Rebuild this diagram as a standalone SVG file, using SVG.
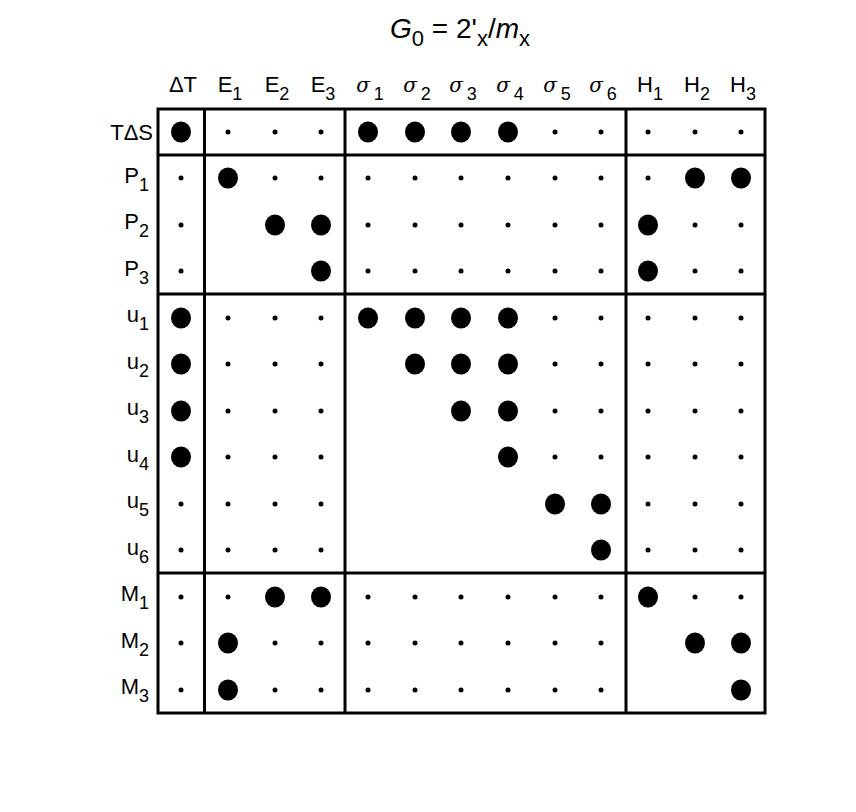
<svg xmlns="http://www.w3.org/2000/svg" width="856" height="812" viewBox="0 0 856 812">
<style>
text{font-family:"Liberation Sans",Arial,sans-serif;font-size:22px;fill:#000}
.sub{font-size:18px}
.g{font-family:"DejaVu Serif","Liberation Serif",serif;font-style:italic;font-size:20px}
.ln{stroke:#000;stroke-width:3;fill:none}
</style>
<defs>
<ellipse id="B" rx="10" ry="10.5"/>
<circle id="s" r="2.5"/>
</defs>
<rect width="856" height="812" fill="#fff"/>
<text x="460" y="38" text-anchor="middle" style="font-size:28px"><tspan font-style="italic">G</tspan><tspan dy="8" style="font-size:22px">0</tspan><tspan dy="-8"> = 2'</tspan><tspan dy="8" style="font-size:22px">x</tspan><tspan dy="-8">/</tspan><tspan font-style="italic">m</tspan><tspan dy="8" style="font-size:22px">x</tspan></text>
<g id="headers" text-anchor="middle">
<text x="183" y="92">ΔT</text>
<text x="230" y="92">E<tspan class="sub" dy="8">1</tspan></text>
<text x="277" y="92">E<tspan class="sub" dy="8">2</tspan></text>
<text x="323" y="92">E<tspan class="sub" dy="8">3</tspan></text>
<text x="370" y="92"><tspan class="g">σ</tspan><tspan class="sub" dx="4" dy="8">1</tspan></text>
<text x="417" y="92"><tspan class="g">σ</tspan><tspan class="sub" dx="4" dy="8">2</tspan></text>
<text x="463" y="92"><tspan class="g">σ</tspan><tspan class="sub" dx="4" dy="8">3</tspan></text>
<text x="510" y="92"><tspan class="g">σ</tspan><tspan class="sub" dx="4" dy="8">4</tspan></text>
<text x="557" y="92"><tspan class="g">σ</tspan><tspan class="sub" dx="4" dy="8">5</tspan></text>
<text x="603" y="92"><tspan class="g">σ</tspan><tspan class="sub" dx="4" dy="8">6</tspan></text>
<text x="650" y="92">H<tspan class="sub" dy="8">1</tspan></text>
<text x="697" y="92">H<tspan class="sub" dy="8">2</tspan></text>
<text x="743" y="92">H<tspan class="sub" dy="8">3</tspan></text>
</g>
<g id="rowlabels" text-anchor="end">
<text x="153" y="140">TΔS</text>
<text x="149" y="183">P<tspan class="sub" dy="8">1</tspan></text>
<text x="149" y="229">P<tspan class="sub" dy="8">2</tspan></text>
<text x="149" y="276">P<tspan class="sub" dy="8">3</tspan></text>
<text x="149" y="322">u<tspan class="sub" dy="8">1</tspan></text>
<text x="149" y="369">u<tspan class="sub" dy="8">2</tspan></text>
<text x="149" y="415">u<tspan class="sub" dy="8">3</tspan></text>
<text x="149" y="462">u<tspan class="sub" dy="8">4</tspan></text>
<text x="149" y="508">u<tspan class="sub" dy="8">5</tspan></text>
<text x="149" y="555">u<tspan class="sub" dy="8">6</tspan></text>
<text x="149" y="601">M<tspan class="sub" dy="8">1</tspan></text>
<text x="149" y="648">M<tspan class="sub" dy="8">2</tspan></text>
<text x="149" y="694">M<tspan class="sub" dy="8">3</tspan></text>
</g>
<g id="frame" class="ln">
<rect x="158" y="109" width="607" height="604"/>
<line x1="204.5" y1="109" x2="204.5" y2="713"/>
<line x1="345" y1="109" x2="345" y2="713"/>
<line x1="626" y1="109" x2="626" y2="713"/>
<line x1="158" y1="155" x2="765" y2="155"/>
<line x1="158" y1="294" x2="765" y2="294"/>
<line x1="158" y1="573" x2="765" y2="573"/>
</g>
<g id="dots">
<use href="#B" x="181" y="132"/><use href="#s" x="228" y="132"/><use href="#s" x="275" y="132"/><use href="#s" x="321" y="132"/><use href="#B" x="368" y="132"/><use href="#B" x="415" y="132"/><use href="#B" x="461" y="132"/><use href="#B" x="508" y="132"/><use href="#s" x="555" y="132"/><use href="#s" x="601" y="132"/><use href="#s" x="648" y="132"/><use href="#s" x="695" y="132"/><use href="#s" x="741" y="132"/>
<use href="#s" x="181" y="178"/><use href="#B" x="228" y="178"/><use href="#s" x="275" y="178"/><use href="#s" x="321" y="178"/><use href="#s" x="368" y="178"/><use href="#s" x="415" y="178"/><use href="#s" x="461" y="178"/><use href="#s" x="508" y="178"/><use href="#s" x="555" y="178"/><use href="#s" x="601" y="178"/><use href="#s" x="648" y="178"/><use href="#B" x="695" y="178"/><use href="#B" x="741" y="178"/>
<use href="#s" x="181" y="225"/><use href="#B" x="275" y="225"/><use href="#B" x="321" y="225"/><use href="#s" x="368" y="225"/><use href="#s" x="415" y="225"/><use href="#s" x="461" y="225"/><use href="#s" x="508" y="225"/><use href="#s" x="555" y="225"/><use href="#s" x="601" y="225"/><use href="#B" x="648" y="225"/><use href="#s" x="695" y="225"/><use href="#s" x="741" y="225"/>
<use href="#s" x="181" y="271"/><use href="#B" x="321" y="271"/><use href="#s" x="368" y="271"/><use href="#s" x="415" y="271"/><use href="#s" x="461" y="271"/><use href="#s" x="508" y="271"/><use href="#s" x="555" y="271"/><use href="#s" x="601" y="271"/><use href="#B" x="648" y="271"/><use href="#s" x="695" y="271"/><use href="#s" x="741" y="271"/>
<use href="#B" x="181" y="318"/><use href="#s" x="228" y="318"/><use href="#s" x="275" y="318"/><use href="#s" x="321" y="318"/><use href="#B" x="368" y="318"/><use href="#B" x="415" y="318"/><use href="#B" x="461" y="318"/><use href="#B" x="508" y="318"/><use href="#s" x="555" y="318"/><use href="#s" x="601" y="318"/><use href="#s" x="648" y="318"/><use href="#s" x="695" y="318"/><use href="#s" x="741" y="318"/>
<use href="#B" x="181" y="364"/><use href="#s" x="228" y="364"/><use href="#s" x="275" y="364"/><use href="#s" x="321" y="364"/><use href="#B" x="415" y="364"/><use href="#B" x="461" y="364"/><use href="#B" x="508" y="364"/><use href="#s" x="555" y="364"/><use href="#s" x="601" y="364"/><use href="#s" x="648" y="364"/><use href="#s" x="695" y="364"/><use href="#s" x="741" y="364"/>
<use href="#B" x="181" y="411"/><use href="#s" x="228" y="411"/><use href="#s" x="275" y="411"/><use href="#s" x="321" y="411"/><use href="#B" x="461" y="411"/><use href="#B" x="508" y="411"/><use href="#s" x="555" y="411"/><use href="#s" x="601" y="411"/><use href="#s" x="648" y="411"/><use href="#s" x="695" y="411"/><use href="#s" x="741" y="411"/>
<use href="#B" x="181" y="457"/><use href="#s" x="228" y="457"/><use href="#s" x="275" y="457"/><use href="#s" x="321" y="457"/><use href="#B" x="508" y="457"/><use href="#s" x="555" y="457"/><use href="#s" x="601" y="457"/><use href="#s" x="648" y="457"/><use href="#s" x="695" y="457"/><use href="#s" x="741" y="457"/>
<use href="#s" x="181" y="504"/><use href="#s" x="228" y="504"/><use href="#s" x="275" y="504"/><use href="#s" x="321" y="504"/><use href="#B" x="555" y="504"/><use href="#B" x="601" y="504"/><use href="#s" x="648" y="504"/><use href="#s" x="695" y="504"/><use href="#s" x="741" y="504"/>
<use href="#s" x="181" y="550"/><use href="#s" x="228" y="550"/><use href="#s" x="275" y="550"/><use href="#s" x="321" y="550"/><use href="#B" x="601" y="550"/><use href="#s" x="648" y="550"/><use href="#s" x="695" y="550"/><use href="#s" x="741" y="550"/>
<use href="#s" x="181" y="597"/><use href="#s" x="228" y="597"/><use href="#B" x="275" y="597"/><use href="#B" x="321" y="597"/><use href="#s" x="368" y="597"/><use href="#s" x="415" y="597"/><use href="#s" x="461" y="597"/><use href="#s" x="508" y="597"/><use href="#s" x="555" y="597"/><use href="#s" x="601" y="597"/><use href="#B" x="648" y="597"/><use href="#s" x="695" y="597"/><use href="#s" x="741" y="597"/>
<use href="#s" x="181" y="643"/><use href="#B" x="228" y="643"/><use href="#s" x="275" y="643"/><use href="#s" x="321" y="643"/><use href="#s" x="368" y="643"/><use href="#s" x="415" y="643"/><use href="#s" x="461" y="643"/><use href="#s" x="508" y="643"/><use href="#s" x="555" y="643"/><use href="#s" x="601" y="643"/><use href="#B" x="695" y="643"/><use href="#B" x="741" y="643"/>
<use href="#s" x="181" y="690"/><use href="#B" x="228" y="690"/><use href="#s" x="275" y="690"/><use href="#s" x="321" y="690"/><use href="#s" x="368" y="690"/><use href="#s" x="415" y="690"/><use href="#s" x="461" y="690"/><use href="#s" x="508" y="690"/><use href="#s" x="555" y="690"/><use href="#s" x="601" y="690"/><use href="#B" x="741" y="690"/>
</g>
</svg>
